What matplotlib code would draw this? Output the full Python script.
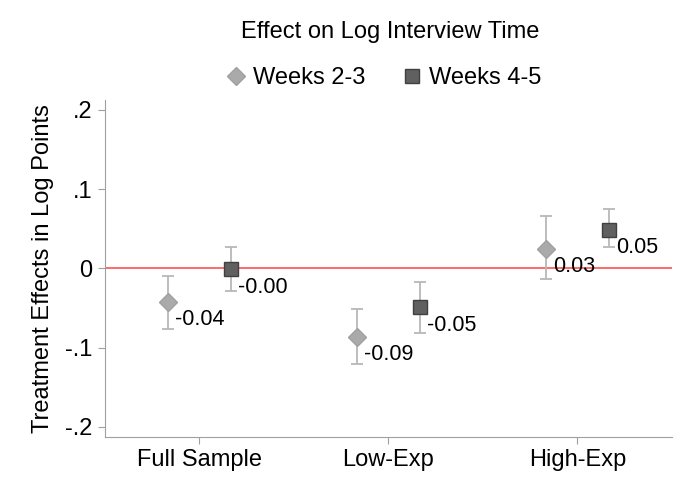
import matplotlib.pyplot as plt
import numpy as np

plt.rcParams['font.family'] = ['Liberation Sans', 'DejaVu Sans']

groups = ["Full Sample", "Low-Exp", "High-Exp"]
# Weeks 2-3
est_23 = [-0.042, -0.086, 0.025]
lo_23 = [-0.076, -0.121, -0.013]
hi_23 = [-0.009, -0.051, 0.066]
# Weeks 4-5
est_45 = [-0.001, -0.049, 0.049]
lo_45 = [-0.028, -0.081, 0.027]
hi_45 = [0.027, -0.017, 0.075]

x = np.arange(1, len(groups) + 1)
off = 0.167

fig = plt.figure(figsize=(6.93, 4.95), dpi=100)
ax = fig.add_axes([0.1515, 0.1172, 0.818, 0.681])

ax.axhline(0, color='#ff5050', lw=1.2, zorder=1)

def draw(xs, est, lo, hi, marker, ms, fc, ec, label):
    est = np.array(est)
    yerr = [est - np.array(lo), np.array(hi) - est]
    ax.errorbar(xs, est, yerr=yerr, fmt='none', ecolor='#b8b8b8', elinewidth=1.3,
                capsize=4, capthick=1.3, zorder=2)
    ax.plot(xs, est, linestyle='none', marker=marker, ms=ms, mfc=fc, mec=ec,
            mew=1, label=label, zorder=3)
    for xi, yi in zip(xs, est):
        ax.annotate("%.2f" % yi, (xi, yi), xytext=(5, -13), textcoords='offset points',
                    ha='left', va='center', fontsize=15.5)

draw(x - off, est_23, lo_23, hi_23, 'D', 9.5, '#aaaaaa', '#a0a0a0', 'Weeks 2-3')
draw(x + off, est_45, lo_45, hi_45, 's', 9.5, '#606060', '#404040', 'Weeks 4-5')

ax.set_xlim(0.5, 3.5)
ax.set_ylim(-0.2127, 0.2127)
ax.set_xticks(x)
ax.set_xticklabels(groups, fontsize=17)
ax.set_yticks([-0.2, -0.1, 0, 0.1, 0.2])
ax.set_yticklabels(['-.2', '-.1', '0', '.1', '.2'], fontsize=17)
ax.set_ylabel("Treatment Effects in Log Points", fontsize=17, labelpad=8)
for s in ['top', 'right']:
    ax.spines[s].set_visible(False)
for s in ['left', 'bottom']:
    ax.spines[s].set_color('#a0a0a0')
ax.tick_params(color='#a0a0a0', length=5, pad=4)

fig.text(0.563, 0.935, "Effect on Log Interview Time", ha='center', va='center', fontsize=17)
ax.legend(loc='lower center', bbox_to_anchor=(0.49, 1.0), ncol=2, frameon=False,
          fontsize=17, handletextpad=0.2, columnspacing=1.5, handlelength=1.0,
          borderaxespad=0.05)

fig.savefig("out.png")
